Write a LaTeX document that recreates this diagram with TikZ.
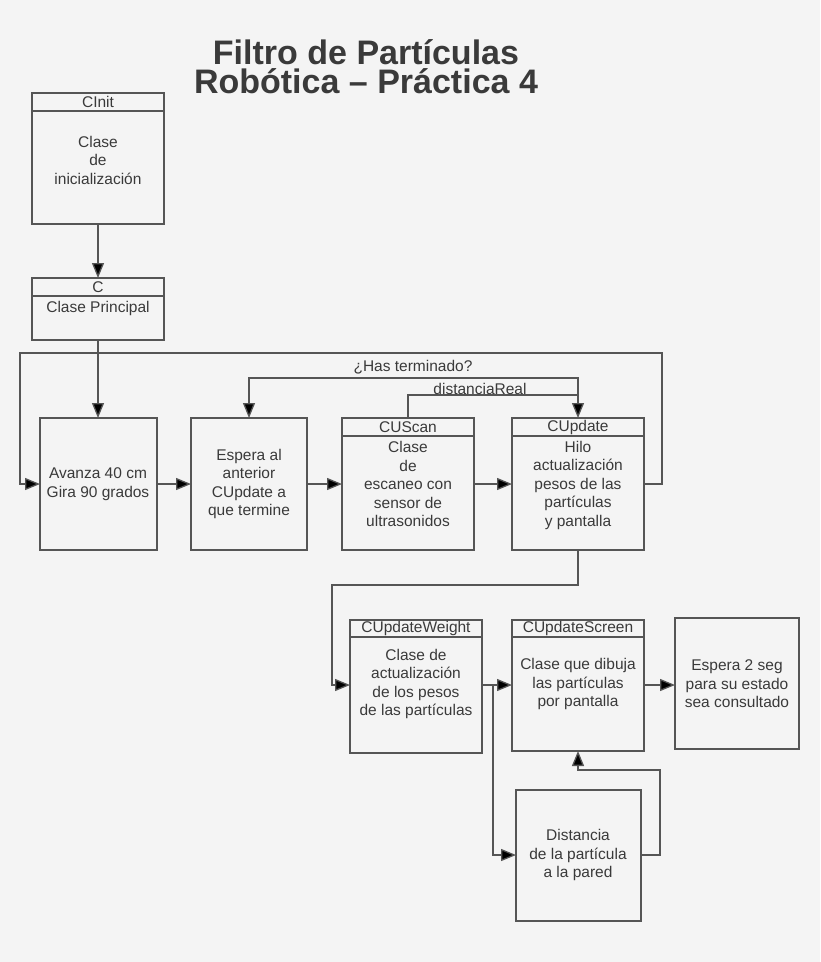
\documentclass[tikz,border=0pt]{standalone}
\usepackage{fontspec}
\setmainfont{Liberation Sans}
\usetikzlibrary{arrows.meta}
\definecolor{bg}{HTML}{F4F4F4}
\definecolor{ln}{HTML}{555555}
\definecolor{tx}{HTML}{3A3A3A}
\begin{document}
\begin{tikzpicture}[x=1pt,y=-1pt,
  box/.style={draw=ln,line width=1.3pt,fill=bg},
  hdr/.style={draw=ln,line width=1.6pt},
  t/.style={text=tx,font=\fontsize{15.5}{18.5}\selectfont,align=center,inner sep=0pt},
  ttl/.style={text=tx,font=\bfseries\fontsize{34}{28}\selectfont,inner sep=0pt},
  con/.style={draw=ln,line width=1.3pt},
  arr/.style={con,-{Triangle[length=15pt,width=12pt,fill=black]}}]
\fill[bg] (0,0) rectangle (820,962);
\useasboundingbox (0,0) rectangle (820,962);
\node[ttl] (title1) at (366,52) {Filtro de Partículas};
\node[ttl] (title2) at (366,81) {Robótica – Práctica 4};
\newcommand{\clsbox}[6]{% name x1 y1 x2 yh y2
  \draw[box] (#2,#3) rectangle (#4,#6);
  \draw[hdr] (#2,#3) rectangle (#4,#5);
  \coordinate (#1) at ({(#2+#4)/2},{(#3+#6)/2});}
\clsbox{cinit}{32}{93}{164}{111}{224}
\node[t] (cinith) at (98,102) {CInit};
\node[t] (cinitt) at (98,160) {Clase\\de\\inicialización};
\clsbox{c}{32}{278}{164}{296}{340}
\node[t] (ch) at (98,287) {C};
\node[t] (ct) at (98,308) {Clase Principal};
\draw[box] (40,418) rectangle (157,550); \coordinate (av) at (98,484);
\node[t] (avt) at (98,484) {Avanza 40 cm\\Gira 90 grados};
\draw[box] (191,418) rectangle (307,550); \coordinate (es) at (249,484);
\node[t] (est) at (249,484) {Espera al\\anterior\\CUpdate a\\que termine};
\clsbox{cus}{342}{418}{474}{436}{550}
\node[t] (cush) at (408,427) {CUScan};
\node[t] (cust) at (408,484) {Clase\\de\\escaneo con\\sensor de\\ultrasonidos};
\clsbox{cup}{512}{418}{644}{436}{550}
\node[t] (cuph) at (578,427) {CUpdate};
\node[t] (cupt) at (578,485) {Hilo\\actualización\\pesos de las\\partículas\\y pantalla};
\clsbox{cuw}{350}{620}{482}{637}{753}
\node[t] (cuwh) at (416,628) {CUpdateWeight};
\node[t] (cuwt) at (416,684) {Clase de\\actualización\\de los pesos\\de las partículas};
\clsbox{cus2}{512}{620}{644}{637}{751}
\node[t] (cus2h) at (578,628) {CUpdateScreen};
\node[t] (cus2t) at (578,684) {Clase que dibuja\\las partículas\\por pantalla};
\draw[box] (675,618) rectangle (799,749);
\node[t] (esp2) at (737,684) {Espera 2 seg\\para su estado\\sea consultado};
\draw[box] (516,790) rectangle (641,921);
\node[t] (dist) at (578,855) {Distancia\\de la partícula\\a la pared};
\draw[arr] (98,224) -- (98,278);
\draw[arr] (98,340) -- (98,418);
\draw[arr] (644,484) -- (662,484) -- (662,353) -- (20,353) -- (20,484) -- (40,484);
\draw[arr] (157,484) -- (191,484);
\draw[arr] (307,484) -- (342,484);
\draw[arr] (474,484) -- (512,484);
\draw[arr] (578,395) -- (578,378) -- (249,378) -- (249,418);
\draw[arr] (408,418) -- (408,395) -- (578,395) -- (578,418);
\node[t] (has) at (413,367) {¿Has terminado?};
\node[t] (dr) at (480,389) {distanciaReal};
\draw[arr] (578,550) -- (578,585) -- (332,585) -- (332,685) -- (350,685);
\draw[arr] (482,685) -- (512,685);
\draw[arr] (493,685) -- (493,855) -- (516,855);
\draw[arr] (644,685) -- (675,685);
\draw[arr] (641,855) -- (660,855) -- (660,770) -- (578,770) -- (578,751);
\end{tikzpicture}
\end{document}
